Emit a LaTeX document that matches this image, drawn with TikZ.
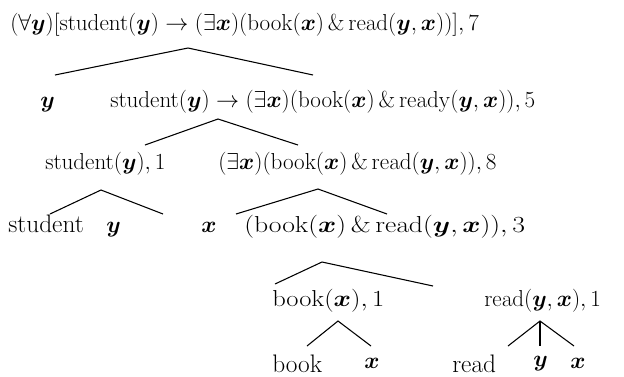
\documentclass[tikz,border=0pt]{standalone}
\usepackage{bm}
\usepackage{tikz}
\usetikzlibrary{calc}
\newcommand{\xv}{\bm{x}}
\newcommand{\yv}{\bm{y}}

\begin{document}
\begin{tikzpicture}[
    x=0.75pt, y=-0.75pt,
    font=\fontsize{19}{22}\selectfont,
    term/.style={
        inner sep=0pt,
        anchor=base west
    },
    branch/.style={
        line width=0.8pt,
        draw=black
    }
]
\useasboundingbox (0,0) rectangle (624,376);

% ==========================================
% LABELS OF THE TREE
% ==========================================

\node[term] (root) at (10,30)
{$(\forall\yv)[\mathrm{student}(\yv)\rightarrow(\exists\xv)(\mathrm{book}(\xv)\,\&\,\mathrm{read}(\yv,\xv))], 7$};

\node[term] (yvar) at (40,107) {$\yv$};
\node[term] (impl) at (110,107)
{$\mathrm{student}(\yv)\rightarrow(\exists\xv)(\mathrm{book}(\xv)\,\&\,\mathrm{ready}(\yv,\xv)), 5$};

\node[term] (stud) at (45,169) {$\mathrm{student}(\yv), 1$};
\node[term] (exq) at (218,169)
{$(\exists\xv)(\mathrm{book}(\xv)\,\&\,\mathrm{read}(\yv,\xv)), 8$};

\node[term] (studw) at (8,232) {student};
\node[term] (yarg) at (106,232) {$\yv$};
\node[term] (xbnd) at (201,232) {$\xv$};
\node[term] (conj) at (244,232)
{\scalebox{1.2}[1]{$(\mathrm{book}(\xv)\,\&\,\mathrm{read}(\yv,\xv)), 3$}};

\node[term] (book) at (272,306) {\scalebox{1.15}[1]{$\mathrm{book}(\xv), 1$}};
\node[term] (read) at (484,306) {$\mathrm{read}(\yv,\xv), 1$};

\node[term] (bookw) at (272,372) {book};
\node[term] (xbook) at (364,368) {$\xv$};
\node[term] (readw) at (452,372) {read};
\node[term] (yread) at (533,366) {$\yv$};
\node[term] (xread) at (570,368) {$\xv$};

% ==========================================
% BRANCHES
% ==========================================

\coordinate (top1) at ($(root.base west)+(178,18)$);
\draw[branch] ($(yvar.base west)+(15,-32)$) -- (top1) -- ($(impl.base west)+(203,-32)$);

\coordinate (top2) at ($(impl.base west)+(108,12)$);
\draw[branch] ($(stud.base west)+(100,-24)$) -- (top2) -- ($(exq.base west)+(80,-24)$);

\coordinate (top3) at ($(stud.base west)+(56,21)$);
\draw[branch] ($(studw.base west)+(42,-18)$) -- (top3) -- ($(yarg.base west)+(57,-18)$);

\coordinate (top4) at ($(exq.base west)+(100,20)$);
\draw[branch] ($(xbnd.base west)+(35,-18)$) -- (top4) -- ($(conj.base west)+(143,-18)$);

\coordinate (top5) at ($(conj.base west)+(78,30)$);
\draw[branch] ($(book.base west)+(3,-22)$) -- (top5) -- ($(read.base west)+(-51,-20)$);

\coordinate (top6) at ($(book.base west)+(66,15)$);
\draw[branch] ($(bookw.base west)+(35,-26)$) -- (top6) -- ($(xbook.base west)+(7,-22)$);

% three-way split under read
\coordinate (top7) at ($(read.base west)+(56,15)$);
\draw[branch] ($(readw.base west)+(56,-26)$) -- (top7) -- ($(xread.base west)+(4,-22)$);
\draw[branch] (top7) -- ($(yread.base west)+(7,-20)$);

\end{tikzpicture}
\end{document}
